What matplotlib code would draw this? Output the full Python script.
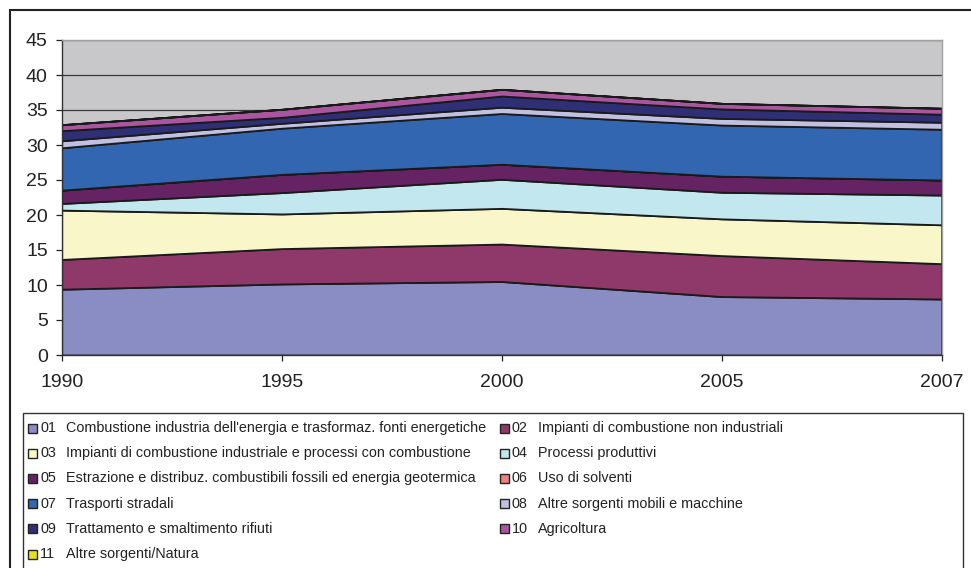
import numpy as np
import matplotlib.pyplot as plt
from matplotlib.patches import Rectangle

plt.rcParams['font.family'] = ['Liberation Sans', 'DejaVu Sans']

# Emissioni per macrosettore (valori cumulati nel grafico ad aree)
anni = ['1990', '1995', '2000', '2005', '2007']
s01 = [9.4, 10.15, 10.5, 8.35, 8.0]
s02 = [4.25, 5.05, 5.35, 5.85, 5.05]
s03 = [7.05, 4.95, 5.1, 5.25, 5.55]
s04 = [0.95, 3.05, 4.15, 3.8, 4.25]
s05 = [1.9, 2.6, 2.15, 2.3, 2.15]
s06 = [0.0, 0.0, 0.0, 0.0, 0.0]
s07 = [6.05, 6.6, 7.25, 7.3, 7.25]
s08 = [1.0, 0.7, 0.9, 0.95, 1.0]
s09 = [1.45, 0.85, 1.6, 1.35, 1.15]
s10 = [0.85, 1.15, 0.95, 0.8, 0.85]
s11 = [0.0, 0.0, 0.0, 0.0, 0.0]

codici = ['01', '02', '03', '04', '05', '06', '07', '08', '09', '10', '11']
nomi = [
    "Combustione industria dell'energia e trasformaz. fonti energetiche",
    "Impianti di combustione non industriali",
    "Impianti di combustione industriale e processi con combustione",
    "Processi produttivi",
    "Estrazione e distribuz. combustibili fossili ed energia geotermica",
    "Uso di solventi",
    "Trasporti stradali",
    "Altre sorgenti mobili e macchine",
    "Trattamento e smaltimento rifiuti",
    "Agricoltura",
    "Altre sorgenti/Natura",
]
colori = ['#8a8dc3', '#8e396a', '#f9f7ca', '#c2e7ef', '#652364', '#f08080',
          '#3366b0', '#c1c0e0', '#2f2f75', '#a955a0', '#e9e21b']

serie = [s01, s02, s03, s04, s05, s06, s07, s08, s09, s10, s11]

W, H = 971, 568
fig = plt.figure(figsize=(W / 100, H / 100), dpi=100)
ax = fig.add_axes([61.7 / W, 1 - 355 / H, 880 / W, 315 / H])

x = np.arange(len(anni))
ax.set_facecolor('#c8c8ca')
ax.stackplot(x, *serie, colors=colori, edgecolor='#1a1a1a', linewidth=1.3, zorder=2)

ax.set_xlim(0, len(anni) - 1)
ax.set_ylim(0, 45)
ax.set_yticks(range(0, 50, 5))
ax.set_xticks(x)
ax.set_xticklabels(anni)
ax.grid(axis='y', color='#3a3a3a', linewidth=0.9, zorder=1)
ax.set_axisbelow(True)
ax.tick_params(axis='y', direction='out', length=4, width=0.9, pad=6, labelsize=14, colors='#222222')
ax.tick_params(axis='x', direction='out', length=4.5, width=0.9, pad=9, labelsize=14, colors='#222222')

for side in ['left', 'bottom']:
    ax.spines[side].set_color('#333333')
    ax.spines[side].set_linewidth(1.0)
for side in ['top', 'right']:
    ax.spines[side].set_color('#a0a0a0')
    ax.spines[side].set_linewidth(1.0)

# cornice esterna del grafico
fig.patches.append(Rectangle((10 / W, -0.1), 1.2, 1 - 10 / H + 0.1, transform=fig.transFigure,
                             fill=False, edgecolor='#222222', linewidth=1.5))

# riquadro della legenda
fig.patches.append(Rectangle((23 / W, -0.1), (963 - 23) / W, 0.1 + (H - 413) / H,
                             transform=fig.transFigure, fill=False,
                             edgecolor='#333333', linewidth=1.0))

# voci della legenda su due colonne, in ordine per riga
col_x = [28, 500]
for i, (cod, nome, col) in enumerate(zip(codici, nomi, colori)):
    r, c = divmod(i, 2)
    yc = 428 + r * 25.2
    x0 = col_x[c]
    fig.patches.append(Rectangle((x0 / W, 1 - (yc + 4.5) / H), 9 / W, 9 / H,
                                 transform=fig.transFigure, facecolor=col,
                                 edgecolor='#222222', linewidth=1.0))
    fig.text((x0 + 12) / W, 1 - yc / H, cod, fontsize=10.4, color='#222222', va='center', ha='left')
    fig.text((x0 + 38) / W, 1 - yc / H, nome, fontsize=10.4, color='#222222', va='center', ha='left')

fig.savefig('out.png', dpi=100)
